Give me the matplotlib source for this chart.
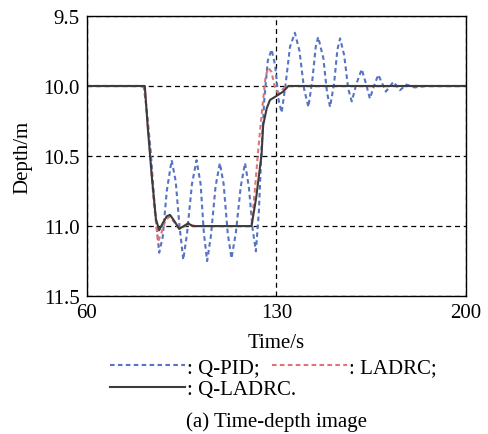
import matplotlib
matplotlib.use('Agg')
import matplotlib.pyplot as plt

plt.rcParams['font.family'] = ['Liberation Serif', 'DejaVu Serif']

# Q-PID
t_pid = [60, 65, 70, 75, 80, 81, 82, 83.5, 85, 86.7, 88, 89.5, 91.3, 92.8, 94.2,
         95.6, 97, 98.8, 100.5, 102, 103.2, 104.4, 105.8, 107.5, 109.1, 110.5,
         112, 113.4, 115, 116.8, 118.4, 119.8, 121.2, 122.4, 123.5, 124.5, 125.5,
         126.8, 128.2, 129.5, 130.8, 131.9, 133.3, 135, 136.8, 138.5, 140.2,
         141.8, 143.3, 144.5, 145.4, 147.3, 148.7, 149.8, 151.3, 152.5, 153.5,
         155, 156.5, 157.8, 159.6, 161.5, 163, 164.5, 166, 167.6, 169, 170.4,
         172, 173.2, 175.6, 178, 181, 185, 190, 195, 200]
d_pid = [10.0, 10.0, 10.0, 10.0, 10.0, 10.01, 10.15, 10.45, 10.85, 11.19, 11.08,
         10.75, 10.53, 10.68, 11.0, 11.24, 11.05, 10.7, 10.53, 10.7, 11.05, 11.25,
         11.07, 10.72, 10.55, 10.7, 11.05, 11.23, 11.05, 10.72, 10.55, 10.72,
         11.02, 11.18, 10.9, 10.44, 10.1, 9.82, 9.74, 9.85, 10.1, 10.19, 10.0,
         9.72, 9.62, 9.75, 10.02, 10.15, 9.95, 9.72, 9.65, 9.8, 10.05, 10.15,
         9.98, 9.74, 9.66, 9.78, 10.02, 10.11, 9.98, 9.88, 9.98, 10.09, 10.0,
         9.92, 9.98, 10.04, 10.0, 9.97, 10.03, 9.99, 10.01, 10.0, 10.0, 10.0, 10.0]

# LADRC
t_ladrc = [60, 70, 81, 81.5, 83, 84.8, 86.3, 87.5, 89, 90.7, 92.5, 94.1, 96,
           97.4, 100.5, 110, 120.8, 122, 123.3, 124.8, 126, 127, 128.2, 129.3,
           130.5, 132, 133.5, 140, 170, 200]
d_ladrc = [10.0, 10.0, 10.0, 10.05, 10.4, 10.85, 11.11, 11.05, 10.96, 10.93,
           10.98, 11.02, 11.0, 10.99, 11.0, 11.0, 11.0, 10.75, 10.45, 10.15,
           9.93, 9.87, 9.9, 10.0, 10.05, 10.03, 10.0, 10.0, 10.0, 10.0]

# Q-LADRC
t_qladrc = [60, 70, 81.4, 82.5, 84, 85.5, 86.7, 88, 89.5, 90.7, 92.5, 94.1,
            95.8, 97.4, 99, 100.5, 110, 120.8, 122.5, 124.5, 125.1, 126.4,
            127.6, 130.1, 132.5, 134.4, 150, 200]
d_qladrc = [10.0, 10.0, 10.0, 10.3, 10.65, 10.95, 11.03, 10.98, 10.93, 10.92,
            10.97, 11.02, 11.0, 10.98, 11.0, 11.0, 11.0, 11.0, 10.8, 10.49,
            10.28, 10.16, 10.1, 10.07, 10.04, 10.0, 10.0, 10.0]

x_ticks = [60, 130, 200]
y_ticks = [9.5, 10.0, 10.5, 11.0, 11.5]

fig = plt.figure(figsize=(4.88, 4.35), dpi=100)
ax = fig.add_axes([0.178, 0.317, 0.777, 0.644])

l1, = ax.plot(t_pid, d_pid, color='#5673c4', lw=1.5, dashes=(2.2, 1.6))
l2, = ax.plot(t_ladrc, d_ladrc, color='#e07474', lw=1.5, dashes=(2.2, 1.6))
l3, = ax.plot(t_qladrc, d_qladrc, color='#3c3c3c', lw=1.5)

ax.set_xlim(60, 200)
ax.set_ylim(11.5, 9.5)
ax.set_xticks(x_ticks)
ax.set_yticks(y_ticks)
ax.set_yticklabels([f'{v:.1f}' for v in y_ticks])
ax.tick_params(length=0, labelsize=15, pad=5)
ax.grid(True, color='black', lw=0.9, dashes=(4, 3))
for s in ax.spines.values():
    s.set_linewidth(1.0)

ax.set_xlabel('Time/s', fontsize=15, labelpad=8)
ax.set_ylabel('Depth/m', fontsize=15, labelpad=8)

leg_kw = dict(frameon=False, fontsize=15, handlelength=3.6, handletextpad=0.1,
              borderpad=0, borderaxespad=0, loc='center left')
leg1 = fig.legend([l1, l2], [': Q-PID;', ': LADRC;'], ncol=2,
                  bbox_to_anchor=(110 / 488, 1 - 368 / 435),
                  columnspacing=0.6, **leg_kw)
leg2 = fig.legend([l3], [': Q-LADRC.'], bbox_to_anchor=(110 / 488, 1 - 390 / 435),
                  **leg_kw)
fig.text(276 / 488, 1 - 422 / 435, '(a) Time-depth image', fontsize=15,
         ha='center', va='center')

plt.savefig('out.png', dpi=100)
